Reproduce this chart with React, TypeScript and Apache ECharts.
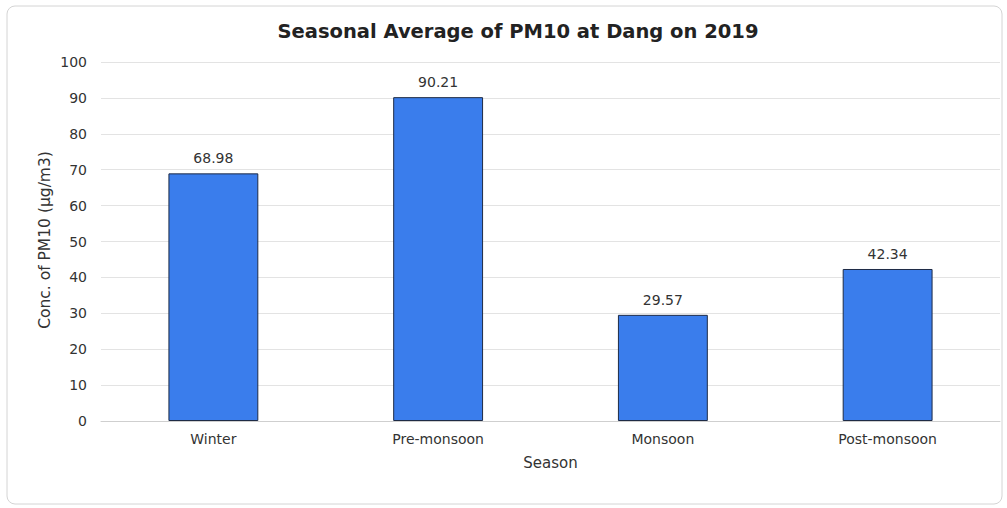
import React, { useEffect, useRef } from "react";
import * as echarts from "echarts";

const categories = ["Winter", "Pre-monsoon", "Monsoon", "Post-monsoon"];
const values = [68.98, 90.21, 29.57, 42.34];
const yTicks = [0, 10, 20, 30, 40, 50, 60, 70, 80, 90, 100];
const FONT = "DejaVu Sans, Liberation Sans, Arial";

export default function App() {
  const ref = useRef<HTMLDivElement>(null);
  useEffect(() => {
    const chart = echarts.init(ref.current!, null, { renderer: "svg" });
    chart.setOption({
      animation: false,
      backgroundColor: "#ffffff",
      graphic: [
        {
          type: "rect",
          shape: { x: 7, y: 6, width: 995, height: 498, r: 8 },
          style: { fill: "none", stroke: "#d4d4d4", lineWidth: 1 },
          silent: true,
        },
        {
          type: "text",
          x: 45,
          y: 240,
          rotation: Math.PI / 2,
          style: {
            text: "Conc. of PM10 (µg/m3)",
            font: `15.5px ${FONT}`,
            fill: "#333",
            align: "center",
            verticalAlign: "middle",
          },
          silent: true,
        },
      ],
      title: {
        text: "Seasonal Average of PM10 at Dang on 2019",
        left: 513,
        textAlign: "center",
        top: 16,
        textStyle: { fontFamily: FONT, fontSize: 19.5, fontWeight: "bold", color: "#222" },
      },
      grid: { left: 101, right: 7, top: 62, bottom: 87 },
      xAxis: {
        type: "category",
        data: categories,
        name: "Season",
        nameLocation: "middle",
        nameGap: 34,
        nameTextStyle: { fontFamily: FONT, fontSize: 15, color: "#333" },
        axisLine: { lineStyle: { color: "#cfcfcf" } },
        axisTick: { show: false },
        axisLabel: { fontFamily: FONT, fontSize: 14, color: "#333", margin: 11 },
      },
      yAxis: {
        type: "value",
        min: yTicks[0],
        max: yTicks[yTicks.length - 1],
        interval: 10,
        axisLine: { show: false },
        axisTick: { show: false },
        axisLabel: { fontFamily: FONT, fontSize: 14, color: "#333", margin: 14 },
        splitLine: { lineStyle: { color: "#e3e3e3", width: 1 } },
      },
      series: [
        {
          type: "bar",
          data: values,
          barWidth: "40%",
          itemStyle: { color: "#3a7dec", borderColor: "#1e2b45", borderWidth: 1 },
          label: {
            show: true,
            position: "top",
            distance: 8,
            fontFamily: FONT,
            fontSize: 14,
            color: "#333",
            formatter: (p: any) => p.value.toFixed(2),
          },
        },
      ],
    });
    return () => chart.dispose();
  }, []);
  return <div ref={ref} style={{ width: 1007, height: 508, position: "absolute", left: 0, top: 0 }} />;
}
